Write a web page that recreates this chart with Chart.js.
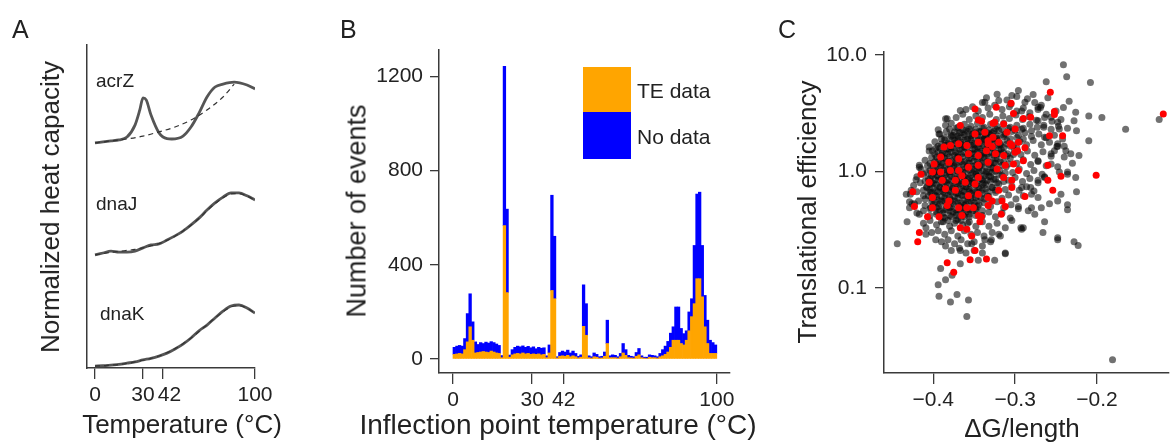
<!DOCTYPE html>
<html lang="en">
<head>
<meta charset="UTF-8">
<title>Heat capacity, inflection points and translational efficiency</title>
<script src="https://cdn.jsdelivr.net/npm/chart.js"></script>
<style>
  body { margin: 0; background: #fff; font-family: "Liberation Sans", Arial, sans-serif; color: #222; }
  #fig { position: relative; width: 1173px; height: 444px; overflow: hidden; }
  canvas { position: absolute; top: 0; }
  .letter { position: absolute; top: 17px; font-size: 25px; line-height: 1; }
  .atitle { position: absolute; white-space: nowrap; line-height: 1; transform: translate(-50%, -50%); font-size: 26px; }
  .ytitle { transform: translate(-50%, -50%) rotate(-90deg); }
  .tag { position: absolute; font-size: 19px; line-height: 1; transform: translateY(-50%); }
  .legbox { position: absolute; left: 583px; width: 48px; }
  .legtxt { position: absolute; left: 637px; font-size: 21px; line-height: 1; transform: translateY(-50%); }
</style>
</head>
<body>
<div id="fig">
  <canvas id="cA" width="290" height="444" style="left:0px"></canvas>
  <canvas id="cB" width="480" height="444" style="left:290px"></canvas>
  <canvas id="cC" width="403" height="444" style="left:770px"></canvas>

  <div class="letter" style="left:12px">A</div>
  <div class="letter" style="left:340px">B</div>
  <div class="letter" style="left:778px">C</div>

  <div class="atitle ytitle" style="left:50px; top:207px">Normalized heat capacity</div>
  <div class="atitle" style="left:182px; top:424px">Temperature (°C)</div>
  <div class="tag" style="left:96px; top:80px">acrZ</div>
  <div class="tag" style="left:96px; top:203px">dnaJ</div>
  <div class="tag" style="left:100px; top:313px">dnaK</div>

  <div class="atitle ytitle" style="left:357px; top:211px; font-size:27px">Number of events</div>
  <div class="atitle" style="left:558px; top:425px; font-size:28px">Inflection point temperature (°C)</div>
  <div class="legbox" style="top:67px; height:45px; background:#FFA500"></div>
  <div class="legbox" style="top:112px; height:47px; background:#0000FF"></div>
  <div class="legtxt" style="top:90px">TE data</div>
  <div class="legtxt" style="top:136px">No data</div>

  <div class="atitle ytitle" style="left:807px; top:212px">Translational efficiency</div>
  <div class="atitle" style="left:1022px; top:428px">ΔG/length</div>
</div>

<script>
// ---- panel A: heat capacity curves (arbitrary units, stacked offsets) ----
const tempA = [0, 5, 10, 15, 20, 25, 28, 30, 32, 35, 40, 45, 48, 55, 60, 65, 70, 75, 80, 87, 95, 100];
const acrZ = [6.97, 7.00, 7.03, 7.06, 7.15, 7.52, 7.99, 8.36, 8.30, 7.83, 7.28, 7.10, 7.09, 7.18, 7.46, 7.89, 8.39, 8.70, 8.79, 8.85, 8.76, 8.64];
const acrZBaseT = [0, 10, 20, 30, 40, 50, 60, 70, 80, 87];
const acrZBase = [6.97, 7.03, 7.09, 7.18, 7.31, 7.46, 7.68, 7.99, 8.39, 8.79];

const tempJK = [0, 5, 10, 15, 20, 25, 30, 35, 40, 45, 50, 55, 60, 65, 70, 75, 80, 85, 90, 95, 100];
const dnaJ = [3.50, 3.56, 3.62, 3.59, 3.59, 3.62, 3.72, 3.81, 3.84, 3.96, 4.09, 4.24, 4.43, 4.64, 4.89, 5.11, 5.29, 5.42, 5.42, 5.33, 5.20];
const dnaJBase = [3.50, 3.54, 3.58, 3.61, 3.64, 3.67, 3.72, 3.78, 3.85, 3.95, 4.08, 4.24, 4.42, 4.63, 4.87, 5.09, 5.27, 5.39, 5.40, 5.32, 5.20];
const dnaK = [0.06, 0.07, 0.09, 0.11, 0.15, 0.19, 0.25, 0.30, 0.37, 0.46, 0.59, 0.74, 0.93, 1.15, 1.33, 1.55, 1.76, 1.92, 1.95, 1.86, 1.70];
const dnaKBase = [0.06, 0.07, 0.09, 0.11, 0.14, 0.19, 0.24, 0.30, 0.37, 0.47, 0.60, 0.75, 0.93, 1.13, 1.34, 1.55, 1.74, 1.89, 1.93, 1.85, 1.70];
const ticksA = [0, 30, 42, 100];

// ---- panel B: histogram of inflection temperatures (1 degree bins) ----
const binsB = [0,1,2,3,4,5,6,7,8,9,10,11,12,13,14,15,16,17,18,19,20,21,22,23,24,25,26,27,28,29,30,31,32,33,34,35,36,37,38,39,40,41,42,43,44,45,46,47,48,49,
  50,51,52,53,54,55,56,57,58,59,60,61,62,63,64,65,66,67,68,69,70,71,72,73,74,75,76,77,78,79,80,81,82,83,84,85,86,87,88,89,90,91,92,93,94,95,96,97,98,99];
const teData = [20,22,24,22,40,73,137,80,26,28,30,32,30,28,34,30,26,24,6,566,282,8,18,22,24,22,26,22,24,20,22,20,22,18,20,6,26,291,256,5,12,14,12,16,10,14,10,5,8,139,
  101,6,4,10,8,4,5,12,66,6,6,6,4,10,26,16,6,5,4,12,18,6,4,3,8,6,6,4,10,14,20,30,50,80,80,80,66,60,80,120,180,235,341,341,264,137,66,24,24,24];
const noData = [30,33,34,33,47,120,140,78,47,34,40,34,42,40,40,40,38,34,9,676,354,9,22,28,31,30,30,28,30,28,30,24,28,28,28,8,34,404,265,5,16,20,18,22,16,20,14,7,10,176,
  134,8,6,16,12,6,7,18,99,8,12,10,6,14,40,24,10,7,6,16,27,8,4,5,10,10,8,6,14,26,35,45,60,57,141,141,64,48,40,80,76,247,359,367,218,133,99,56,46,36];
const ticksBx = [0, 30, 42, 100];
const ticksBy = [0, 400, 800, 1200];

// ---- panel C: dG/length vs translational efficiency ----
const grayPts = [
  [-0.444,0.24],[-0.241,8.26],[-0.237,6.5],[-0.208,5.8],[-0.262,5.9],[-0.194,2.9],[-0.165,2.3],[-0.124,2.8],[-0.181,0.0243],[-0.223,0.232],
  [-0.248,0.26],[-0.21,1.84],[-0.225,2.24],[-0.21,3.0],[-0.234,4.0],[-0.226,0.89],[-0.225,0.67],[-0.236,0.52],[-0.244,0.64],[-0.23,1.18],
  [-0.238,1.51],[-0.264,0.37],[-0.266,0.3],[-0.359,0.057],[-0.357,0.079],[-0.379,0.076],[-0.371,0.088],[-0.393,0.085],[-0.394,0.107],[-0.385,0.118],
  [-0.391,0.147],[-0.377,0.129],[-0.367,0.162],[-0.345,0.173],[-0.325,0.173],[-0.312,0.197],[-0.432,0.37],[-0.427,0.69],[-0.429,0.55],[-0.417,1.09],
  [-0.401,1.51],[-0.394,2.28],[-0.383,2.83],[-0.367,3.33],[-0.337,3.93],[-0.32,4.06],[-0.304,4.48],[-0.296,4.95],[-0.288,3.93],[-0.278,4.57],
  [-0.272,3.56],[-0.256,2.92],[-0.248,2.65],[-0.28,2.24],[-0.264,1.97],[-0.252,1.51],[-0.256,1.16],[-0.246,0.99],[-0.272,0.84],[-0.28,0.64],
  [-0.292,0.73],[-0.28,0.49],[-0.29,0.33],[-0.304,0.38],[-0.32,0.29],[-0.337,0.26],[-0.353,0.24],[-0.367,0.21],[-0.385,0.23],[-0.397,0.26],
  [-0.409,0.33],[-0.417,0.43],[-0.423,0.53],[-0.409,0.29],[-0.403,0.49],[-0.272,2.73],[-0.265,2.4],[-0.248,1.73],[-0.24,1.65],[-0.228,2.73],
  [-0.256,1.42],[-0.272,1.24],[-0.248,1.1],[-0.236,0.95],[-0.264,0.9],[-0.281,0.73],[-0.248,0.56],[-0.236,0.47],[-0.268,0.49],[-0.284,0.46],
  [-0.293,0.33],[-0.248,0.27],[-0.228,0.25],[-0.312,0.2],[-0.329,0.26],[-0.296,0.5],[-0.269,3.55],[-0.241,3.55],[-0.292,3.3],[-0.417,1.13],
  [-0.421,0.85],[-0.433,0.64],[-0.429,0.49],[-0.405,1.62],[-0.393,2.1],[-0.385,2.83],[-0.249,1.64],[-0.24,1.33],[-0.232,1.42],[-0.222,1.37],
  [-0.236,0.99],[-0.264,0.89],[-0.272,0.6],[-0.276,0.43],[-0.258,0.53],[-0.292,0.32],[-0.246,2.32],[-0.226,3.22],
  // body of the cloud
  [-0.335,4.3],[-0.322,4.6],[-0.31,4.1],[-0.298,4.4],[-0.285,4.2],[-0.34,3.9],[-0.305,3.8],[-0.276,3.9],[-0.26,4.3],[-0.268,3.7],
  [-0.36,3.4],[-0.352,3.6],[-0.345,3.3],[-0.333,3.5],[-0.325,3.7],[-0.316,3.4],[-0.307,3.6],[-0.298,3.3],[-0.29,3.5],[-0.282,3.2],[-0.272,3.4],[-0.262,3.1],[-0.25,3.3],
  [-0.372,2.9],[-0.364,3.1],[-0.356,2.8],[-0.348,3.0],[-0.34,2.9],[-0.331,3.1],[-0.323,2.8],[-0.315,3.0],[-0.307,2.85],[-0.299,3.05],[-0.291,2.8],[-0.283,2.95],[-0.274,2.75],[-0.264,2.9],[-0.255,2.7],[-0.244,2.8],
  [-0.385,2.5],[-0.378,2.6],[-0.37,2.4],[-0.362,2.55],[-0.354,2.45],[-0.346,2.6],[-0.338,2.4],[-0.33,2.55],[-0.322,2.45],[-0.314,2.6],[-0.306,2.4],[-0.298,2.5],[-0.29,2.35],[-0.282,2.55],[-0.273,2.4],[-0.265,2.5],[-0.256,2.3],[-0.247,2.45],[-0.236,2.35],
  [-0.392,2.1],[-0.384,2.2],[-0.376,2.05],[-0.368,2.15],[-0.36,2.25],[-0.352,2.1],[-0.344,2.2],[-0.336,2.05],[-0.328,2.15],[-0.32,2.25],[-0.312,2.1],[-0.304,2.2],[-0.296,2.05],[-0.288,2.15],[-0.28,2.0],[-0.271,2.1],[-0.262,1.95],[-0.252,2.05],[-0.242,1.9],
  [-0.398,1.8],[-0.39,1.9],[-0.382,1.75],[-0.374,1.85],[-0.366,1.78],[-0.358,1.9],[-0.35,1.75],[-0.342,1.85],[-0.334,1.8],[-0.326,1.9],[-0.318,1.75],[-0.31,1.85],[-0.302,1.7],[-0.294,1.8],[-0.286,1.7],[-0.278,1.85],[-0.268,1.7],[-0.258,1.78],[-0.248,1.65],
  [-0.405,1.5],[-0.397,1.58],[-0.389,1.45],[-0.381,1.55],[-0.373,1.48],[-0.365,1.6],[-0.357,1.45],[-0.349,1.55],[-0.341,1.5],[-0.333,1.6],[-0.325,1.45],[-0.317,1.55],[-0.309,1.42],[-0.301,1.52],[-0.293,1.4],[-0.285,1.5],[-0.276,1.38],[-0.266,1.48],[-0.256,1.35],
  [-0.41,1.25],[-0.402,1.32],[-0.394,1.22],[-0.386,1.3],[-0.378,1.24],[-0.37,1.33],[-0.362,1.22],[-0.354,1.3],[-0.346,1.25],[-0.338,1.33],[-0.33,1.2],[-0.322,1.28],[-0.314,1.22],[-0.306,1.3],[-0.298,1.18],[-0.29,1.26],[-0.281,1.15],[-0.272,1.22],[-0.262,1.12],
  [-0.415,1.05],[-0.407,1.12],[-0.399,1.02],[-0.391,1.1],[-0.383,1.04],[-0.375,1.12],[-0.367,1.02],[-0.359,1.1],[-0.351,1.05],[-0.343,1.12],[-0.335,1.0],[-0.327,1.08],[-0.319,1.02],[-0.311,1.1],[-0.303,0.98],[-0.295,1.05],[-0.286,0.96],[-0.277,1.02],[-0.267,0.95],
  [-0.42,0.9],[-0.412,0.95],[-0.404,0.87],[-0.396,0.93],[-0.388,0.88],[-0.38,0.95],[-0.372,0.86],[-0.364,0.92],[-0.356,0.88],[-0.348,0.95],[-0.34,0.85],[-0.332,0.91],[-0.324,0.86],[-0.316,0.92],[-0.308,0.84],[-0.3,0.89],[-0.291,0.82],[-0.282,0.87],[-0.272,0.8],
  [-0.424,0.76],[-0.416,0.8],[-0.408,0.74],[-0.4,0.79],[-0.392,0.73],[-0.384,0.8],[-0.376,0.72],[-0.368,0.78],[-0.36,0.74],[-0.352,0.8],[-0.344,0.72],[-0.336,0.77],[-0.328,0.73],[-0.32,0.78],[-0.312,0.7],[-0.304,0.75],[-0.295,0.69],[-0.286,0.74],[-0.277,0.68],
  [-0.428,0.64],[-0.42,0.67],[-0.412,0.62],[-0.404,0.66],[-0.396,0.61],[-0.388,0.67],[-0.38,0.6],[-0.372,0.65],[-0.364,0.62],[-0.356,0.67],[-0.348,0.6],[-0.34,0.65],[-0.332,0.61],[-0.324,0.66],[-0.316,0.59],[-0.308,0.63],[-0.299,0.58],[-0.29,0.62],
  [-0.426,0.53],[-0.418,0.56],[-0.41,0.51],[-0.402,0.55],[-0.394,0.5],[-0.386,0.56],[-0.378,0.5],[-0.37,0.54],[-0.362,0.51],[-0.354,0.56],[-0.346,0.5],[-0.338,0.54],[-0.33,0.5],[-0.322,0.55],[-0.314,0.49],[-0.305,0.52],[-0.296,0.48],
  [-0.42,0.44],[-0.412,0.46],[-0.404,0.42],[-0.396,0.45],[-0.388,0.41],[-0.38,0.46],[-0.372,0.42],[-0.364,0.45],[-0.356,0.41],[-0.348,0.46],[-0.34,0.42],[-0.332,0.45],[-0.324,0.41],[-0.316,0.44],[-0.306,0.4],
  [-0.412,0.36],[-0.404,0.38],[-0.396,0.35],[-0.388,0.37],[-0.38,0.34],[-0.372,0.38],[-0.364,0.35],[-0.356,0.37],[-0.348,0.34],[-0.34,0.37],[-0.332,0.34],[-0.322,0.36],[-0.312,0.33],
  [-0.402,0.3],[-0.394,0.31],[-0.386,0.29],[-0.378,0.31],[-0.37,0.28],[-0.362,0.31],[-0.354,0.29],[-0.346,0.3],[-0.338,0.28],[-0.328,0.3],[-0.318,0.28],
  [-0.39,0.25],[-0.382,0.26],[-0.374,0.24],[-0.366,0.26],[-0.358,0.24],[-0.35,0.25],[-0.34,0.23],[-0.33,0.25],
  [-0.378,0.21],[-0.368,0.22],[-0.36,0.2],[-0.35,0.21],[-0.34,0.2],
  // dense middle
  [-0.38,2.3],[-0.372,2.35],[-0.364,2.28],[-0.356,2.32],[-0.348,2.3],[-0.34,2.36],[-0.332,2.27],[-0.324,2.33],[-0.316,2.3],[-0.308,2.35],[-0.3,2.26],[-0.292,2.3],
  [-0.386,1.95],[-0.378,2.0],[-0.37,1.93],[-0.362,1.98],[-0.354,1.94],[-0.346,2.0],[-0.338,1.92],[-0.33,1.97],[-0.322,1.93],[-0.314,1.99],[-0.306,1.91],[-0.298,1.96],[-0.29,1.9],
  [-0.394,1.65],[-0.386,1.68],[-0.378,1.62],[-0.37,1.67],[-0.362,1.63],[-0.354,1.68],[-0.346,1.62],[-0.338,1.66],[-0.33,1.63],[-0.322,1.68],[-0.314,1.61],[-0.306,1.65],[-0.298,1.6],
  [-0.398,1.4],[-0.39,1.38],[-0.382,1.42],[-0.374,1.37],[-0.366,1.41],[-0.358,1.38],[-0.35,1.42],[-0.342,1.37],[-0.334,1.41],[-0.326,1.38],[-0.318,1.42],[-0.31,1.36],[-0.302,1.4],
  [-0.404,1.17],[-0.396,1.15],[-0.388,1.18],[-0.38,1.14],[-0.372,1.17],[-0.364,1.15],[-0.356,1.18],[-0.348,1.14],[-0.34,1.17],[-0.332,1.15],[-0.324,1.18],[-0.316,1.13],[-0.308,1.16],
  [-0.408,0.98],[-0.4,0.96],[-0.392,0.99],[-0.384,0.97],[-0.376,0.99],[-0.368,0.96],[-0.36,0.99],[-0.352,0.97],[-0.344,0.99],[-0.336,0.96],[-0.328,0.98],[-0.32,0.95],[-0.312,0.97],
  [-0.41,0.83],[-0.402,0.81],[-0.394,0.84],[-0.386,0.82],[-0.378,0.83],[-0.37,0.81],[-0.362,0.84],[-0.354,0.82],[-0.346,0.83],[-0.338,0.8],[-0.33,0.82],[-0.322,0.8],[-0.314,0.82],
  [-0.412,0.69],[-0.404,0.7],[-0.396,0.68],[-0.388,0.7],[-0.38,0.68],[-0.372,0.7],[-0.364,0.68],[-0.356,0.7],[-0.348,0.67],[-0.34,0.69],[-0.332,0.67],[-0.324,0.69],
  [-0.41,0.58],[-0.402,0.59],[-0.394,0.57],[-0.386,0.59],[-0.378,0.57],[-0.37,0.59],[-0.362,0.57],[-0.354,0.59],[-0.346,0.56],[-0.338,0.58],[-0.33,0.56],
  [-0.404,0.48],[-0.396,0.49],[-0.388,0.47],[-0.38,0.49],[-0.372,0.47],[-0.364,0.49],[-0.356,0.47],[-0.348,0.48],[-0.34,0.46],
  // darkest core
  [-0.378,2.05],[-0.37,2.02],[-0.362,2.07],[-0.354,2.03],[-0.346,2.06],[-0.338,2.02],[-0.33,2.07],[-0.322,2.03],[-0.314,2.06],
  [-0.39,1.72],[-0.382,1.7],[-0.374,1.74],[-0.366,1.71],[-0.358,1.73],[-0.35,1.7],[-0.342,1.74],[-0.334,1.71],[-0.326,1.73],[-0.318,1.7],[-0.31,1.72],
  [-0.394,1.46],[-0.386,1.44],[-0.378,1.47],[-0.37,1.44],[-0.362,1.46],[-0.354,1.43],[-0.346,1.47],[-0.338,1.44],[-0.33,1.46],[-0.322,1.43],[-0.314,1.45],
  [-0.398,1.22],[-0.39,1.2],[-0.382,1.23],[-0.374,1.2],[-0.366,1.22],[-0.358,1.19],[-0.35,1.23],[-0.342,1.2],[-0.334,1.22],[-0.326,1.19],[-0.318,1.21],
  [-0.404,1.02],[-0.396,1.0],[-0.388,1.03],[-0.38,1.0],[-0.372,1.02],[-0.364,0.99],[-0.356,1.03],[-0.348,1.0],[-0.34,1.02],[-0.332,0.99],[-0.324,1.01],
  [-0.406,0.86],[-0.398,0.85],[-0.39,0.87],[-0.382,0.85],[-0.374,0.87],[-0.366,0.84],[-0.358,0.87],[-0.35,0.85],[-0.342,0.87],[-0.334,0.84],[-0.326,0.86],
  [-0.408,0.73],[-0.4,0.72],[-0.392,0.74],[-0.384,0.72],[-0.376,0.74],[-0.368,0.71],[-0.36,0.74],[-0.352,0.72],[-0.344,0.74],[-0.336,0.71],[-0.328,0.73],
  [-0.406,0.62],[-0.398,0.63],[-0.39,0.61],[-0.382,0.63],[-0.374,0.61],[-0.366,0.63],[-0.358,0.61],[-0.35,0.63],[-0.342,0.6],[-0.334,0.62],
  [-0.4,0.52],[-0.392,0.53],[-0.384,0.51],[-0.376,0.53],[-0.368,0.51],[-0.36,0.53],[-0.352,0.51],[-0.344,0.52],
  [-0.396,0.43],[-0.388,0.44],[-0.38,0.42],[-0.372,0.44],[-0.364,0.42],[-0.356,0.43],[-0.348,0.42],
  [-0.39,0.37],[-0.382,0.38],[-0.374,0.36],[-0.366,0.38],[-0.358,0.36],
  [-0.374,2.18],[-0.366,2.15],[-0.358,2.2],[-0.35,2.16],[-0.342,2.19],[-0.334,2.15],[-0.326,2.2],
  [-0.386,1.86],[-0.378,1.84],[-0.37,1.88],[-0.362,1.85],[-0.354,1.87],[-0.346,1.84],[-0.338,1.88],[-0.33,1.85],[-0.322,1.87],
  [-0.392,1.58],[-0.384,1.56],[-0.376,1.59],[-0.368,1.56],[-0.36,1.58],[-0.352,1.55],[-0.344,1.59],[-0.336,1.56],[-0.328,1.58],[-0.32,1.55],
  [-0.396,1.33],[-0.388,1.31],[-0.38,1.34],[-0.372,1.31],[-0.364,1.33],[-0.356,1.3],[-0.348,1.34],[-0.34,1.31],[-0.332,1.33],[-0.324,1.3],
  [-0.4,1.1],[-0.392,1.08],[-0.384,1.11],[-0.376,1.08],[-0.368,1.1],[-0.36,1.07],[-0.352,1.11],[-0.344,1.08],[-0.336,1.1],[-0.328,1.07],
  [-0.402,0.92],[-0.394,0.91],[-0.386,0.93],[-0.378,0.91],[-0.37,0.93],[-0.362,0.9],[-0.354,0.93],[-0.346,0.91],[-0.338,0.92],[-0.33,0.9],
  [-0.404,0.78],[-0.396,0.77],[-0.388,0.79],[-0.38,0.77],[-0.372,0.79],[-0.364,0.76],[-0.356,0.79],[-0.348,0.77],[-0.34,0.78],
  [-0.402,0.66],[-0.394,0.67],[-0.386,0.65],[-0.378,0.67],[-0.37,0.65],[-0.362,0.67],[-0.354,0.65],[-0.346,0.66],
  [-0.398,0.55],[-0.39,0.56],[-0.382,0.54],[-0.374,0.56],[-0.366,0.54],[-0.358,0.56],[-0.35,0.54],
  [-0.392,0.46],[-0.384,0.47],[-0.376,0.45],[-0.368,0.47],[-0.36,0.45],[-0.352,0.46],
  [-0.386,0.4],[-0.378,0.41],[-0.37,0.39],[-0.362,0.41]
];
const redPts = [
  [-0.119,3.12],[-0.257,4.79],[-0.252,3.27],[-0.252,3.08],[-0.201,0.93],[-0.244,0.91],[-0.288,0.61],[-0.349,3.44],[-0.305,3.85],[-0.323,3.56],
  [-0.367,2.48],[-0.327,2.59],[-0.314,2.56],[-0.302,3.14],[-0.29,2.85],[-0.281,2.92],[-0.258,2.03],[-0.242,2.03],[-0.387,1.62],[-0.379,1.67],
  [-0.369,1.73],[-0.359,1.67],[-0.349,2.1],[-0.337,2.17],[-0.327,1.97],[-0.345,1.78],[-0.333,1.73],[-0.32,1.78],[-0.31,2.17],[-0.304,1.67],
  [-0.296,1.78],[-0.3,1.46],[-0.391,1.33],[-0.399,1.16],[-0.381,1.2],[-0.369,1.29],[-0.357,1.42],[-0.345,1.37],[-0.335,1.51],[-0.324,1.42],
  [-0.314,1.37],[-0.333,1.2],[-0.345,1.13],[-0.357,1.09],[-0.369,1.02],[-0.379,1.02],[-0.391,0.99],[-0.401,0.99],[-0.415,0.95],[-0.322,1.05],
  [-0.312,1.13],[-0.302,1.16],[-0.296,1.02],[-0.29,1.24],[-0.26,1.13],[-0.26,0.84],[-0.254,0.69],[-0.405,0.81],[-0.389,0.84],[-0.373,0.84],
  [-0.361,0.81],[-0.349,0.78],[-0.365,0.92],[-0.345,0.89],[-0.314,0.89],[-0.304,0.84],[-0.425,0.67],[-0.385,0.71],[-0.373,0.69],[-0.357,0.62],
  [-0.345,0.64],[-0.333,0.6],[-0.32,0.69],[-0.401,0.6],[-0.381,0.56],[-0.423,0.5],[-0.401,0.49],[-0.383,0.51],[-0.369,0.49],[-0.359,0.49],
  [-0.351,0.49],[-0.333,0.51],[-0.316,0.56],[-0.312,0.5],[-0.317,0.43],[-0.407,0.41],[-0.393,0.41],[-0.365,0.42],[-0.345,0.42],[-0.341,0.41],
  [-0.367,0.33],[-0.359,0.32],[-0.343,0.37],[-0.417,0.3],[-0.419,0.25],[-0.349,0.21],[-0.353,0.28],[-0.383,0.165],[-0.375,0.137],[-0.355,0.175],
  [-0.335,0.178],[-0.345,2.77],[-0.341,2.7],[-0.325,2.65],[-0.328,0.56],[-0.304,0.73],[-0.297,1.51],[-0.288,1.6],[-0.306,1.73],[-0.3,2.32],
  [-0.333,1.84],[-0.328,1.64]
];
const ticksCx = [-0.4, -0.3, -0.2];
const ticksCy = [0.1, 1, 10];

// ---- shared look ----
Chart.defaults.font.family = 'Liberation Sans';
const axisColor = '#3a3a3a';
const tickFont = { family: 'Liberation Sans', size: 21 };

function fixW(w) { return s => { s.width = w; }; }
function fixH(h) { return s => { s.height = h; }; }
function setTicks(vals) { return s => { s.ticks = vals.map(v => ({ value: v })); }; }
function pts(xs, ys) { return xs.map((x, i) => ({ x: x, y: ys[i] })); }

function xAxis(min, max, tickVals, h, extra) {
  return Object.assign({
    type: 'linear', min: min, max: max,
    afterBuildTicks: setTicks(tickVals), afterFit: fixH(h),
    grid: { drawOnChartArea: false, offset: false, tickLength: 11, color: axisColor, lineWidth: 1.3 },
    border: { color: axisColor, width: 1.5 },
    ticks: { font: tickFont, color: '#222', padding: 4, maxRotation: 0, autoSkip: false, callback: v => String(v) }
  }, extra || {});
}

const baseOpts = {
  responsive: false,
  animation: false,
  events: [],
  plugins: { legend: { display: false }, tooltip: { enabled: false } }
};

// panel A
const solid = { borderColor: '#555', borderWidth: 2.8, pointRadius: 0, cubicInterpolationMode: 'monotone', fill: false };
const dashed = { borderColor: '#333', borderWidth: 1.2, borderDash: [5, 4], pointRadius: 0, cubicInterpolationMode: 'monotone', fill: false };
new Chart(document.getElementById('cA'), {
  type: 'line',
  data: {
    datasets: [
      Object.assign({ label: 'acrZ baseline', data: pts(acrZBaseT, acrZBase) }, dashed),
      Object.assign({ label: 'dnaJ baseline', data: pts(tempJK, dnaJBase) }, dashed),
      Object.assign({ label: 'dnaK baseline', data: pts(tempJK, dnaKBase) }, dashed),
      Object.assign({ label: 'acrZ', data: pts(tempA, acrZ) }, solid),
      Object.assign({ label: 'dnaJ', data: pts(tempJK, dnaJ) }, solid),
      Object.assign({ label: 'dnaK', data: pts(tempJK, dnaK) }, solid)
    ]
  },
  options: Object.assign({}, baseOpts, {
    layout: { padding: { left: 0, right: 35, top: 45, bottom: 0 } },
    scales: {
      x: xAxis(-5, 100, ticksA, 76, {
        // 30 and 42 sit close together, so the 42 label is nudged right as in the original
        ticks: { font: tickFont, color: '#222', padding: 4, maxRotation: 0, autoSkip: false,
                 callback: v => v === 42 ? '\u2002\u200942' : String(v) }
      }),
      y: {
        min: 0, max: 10, afterFit: fixW(87),
        ticks: { display: false },
        grid: { drawOnChartArea: false, drawTicks: false },
        border: { color: axisColor, width: 1.5 }
      }
    }
  })
});

// panel B
new Chart(document.getElementById('cB'), {
  type: 'bar',
  data: {
    datasets: [
      { label: 'TE data', data: pts(binsB.map(b => b + 0.5), teData), backgroundColor: '#FFA500', borderWidth: 0, barPercentage: 1, categoryPercentage: 1 },
      { label: 'No data', data: pts(binsB.map(b => b + 0.5), noData), backgroundColor: '#0000FF', borderWidth: 0, barPercentage: 1, categoryPercentage: 1 }
    ]
  },
  options: Object.assign({}, baseOpts, {
    layout: { padding: { left: 0, right: 40, top: 50, bottom: 0 } },
    scales: {
      x: xAxis(-5.3, 105, ticksBx, 71, { stacked: true, offset: false }),
      y: {
        stacked: true, min: -59, max: 1311,
        afterBuildTicks: setTicks(ticksBy), afterFit: fixW(149),
        grid: { drawOnChartArea: false, tickLength: 9, color: axisColor, lineWidth: 1.3 },
        border: { color: axisColor, width: 1.5 },
        ticks: { font: tickFont, color: '#222', padding: 7, callback: v => String(v) }
      }
    }
  })
});

// panel C
new Chart(document.getElementById('cC'), {
  type: 'scatter',
  data: {
    datasets: [
      { label: 'TE data', data: redPts.map(p => ({ x: p[0], y: p[1] })), backgroundColor: '#FF0000', pointRadius: 3.5, borderWidth: 0 },
      { label: 'all genes', data: grayPts.map(p => ({ x: p[0], y: p[1] })), backgroundColor: 'rgba(10,10,10,0.58)', pointRadius: 3.5, borderWidth: 0 }
    ]
  },
  options: Object.assign({}, baseOpts, {
    layout: { padding: { left: 0, right: 0, top: 52, bottom: 0 } },
    scales: {
      x: xAxis(-0.4602, -0.112, ticksCx, 71, {
        ticks: { font: tickFont, color: '#222', padding: 4, maxRotation: 0, autoSkip: false,
                 callback: v => v.toFixed(1).replace('-', '\u2212') }
      }),
      y: {
        type: 'logarithmic', min: 0.0187, max: 10.6,
        afterBuildTicks: setTicks(ticksCy), afterFit: fixW(114),
        grid: { drawOnChartArea: false, tickLength: 9, color: axisColor, lineWidth: 1.3 },
        border: { color: axisColor, width: 1.5 },
        ticks: { font: tickFont, color: '#222', padding: 8, callback: v => Number(v).toFixed(1) }
      }
    }
  })
});
</script>
</body>
</html>
